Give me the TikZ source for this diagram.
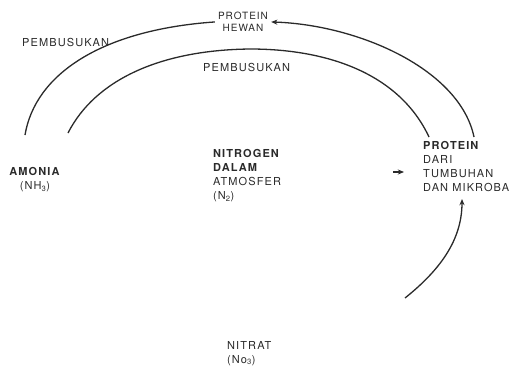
\documentclass[tikz,border=0pt]{standalone}
\usepackage{fontspec}
\setmainfont{TeX Gyre Heros}[LetterSpace=10]
\usepackage{tikz}
\usetikzlibrary{arrows.meta, positioning}
\usepackage{xcolor}
\definecolor{ink}{HTML}{2A2A2A}

\begin{document}
\begin{tikzpicture}[
  x=1bp, y=-1bp,
  label/.style={inner sep=0pt, text=ink, align=left, font=\fontsize{11bp}{14bp}\selectfont},
  small/.style={label, align=center, font=\fontsize{10bp}{12bp}\selectfont},
  line/.style={draw=ink, line width=1.3bp},
  arrow/.style={line, -{Stealth[length=2.2mm, width=1.8mm]}},
]
\useasboundingbox (0,0) rectangle (516,366);

\node[small, anchor=north, inner sep=3bp] (hewan) at (243,9) {PROTEIN\\HEWAN};
\node[label, anchor=north west] (busuk1) at (22,38) {PEMBUSUKAN};
\node[label, anchor=north west] (busuk2) at (203,63) {PEMBUSUKAN};
\node[label, anchor=north, align=center] (amonia) at (35,167) {\textbf{AMONIA}\\(NH\textsubscript{3})};
\node[label, anchor=north west] (nitrogen) at (213,149) {\textbf{NITROGEN}\\\textbf{DALAM}\\ATMOSFER\\(N\textsubscript{2})};
\node[label, anchor=north west] (protein) at (423,141) {\textbf{PROTEIN}\\DARI\\TUMBUHAN\\DAN MIKROBA};
\node[label, anchor=north west] (nitrat) at (227,341) {NITRAT\\(No\textsubscript{3})};

\coordinate (amo-a) at (25,135);
\coordinate (amo-b) at (68,133);
\coordinate (pro-a) at (429,137);
\coordinate (pro-b) at (474,137);
\coordinate (pro-c) at (462,199);
\coordinate (nit-out) at (405,298);
\coordinate (fix-a) at (393,172);
\coordinate (fix-b) at (404,172);

\draw[line] (amo-a) .. controls (35,75) and (100,30) .. (hewan.west);
\draw[arrow] (pro-b) .. controls (460,70) and (360,25) .. (hewan.east);
\draw[line] (amo-b) .. controls (95,80) and (160,50) .. (250,49) .. controls (330,49) and (400,75) .. (pro-a);
\draw[arrow] (nit-out) .. controls (440,270) and (462,240) .. (pro-c);
\draw[arrow] (fix-a) -- (fix-b);

\end{tikzpicture}
\end{document}
